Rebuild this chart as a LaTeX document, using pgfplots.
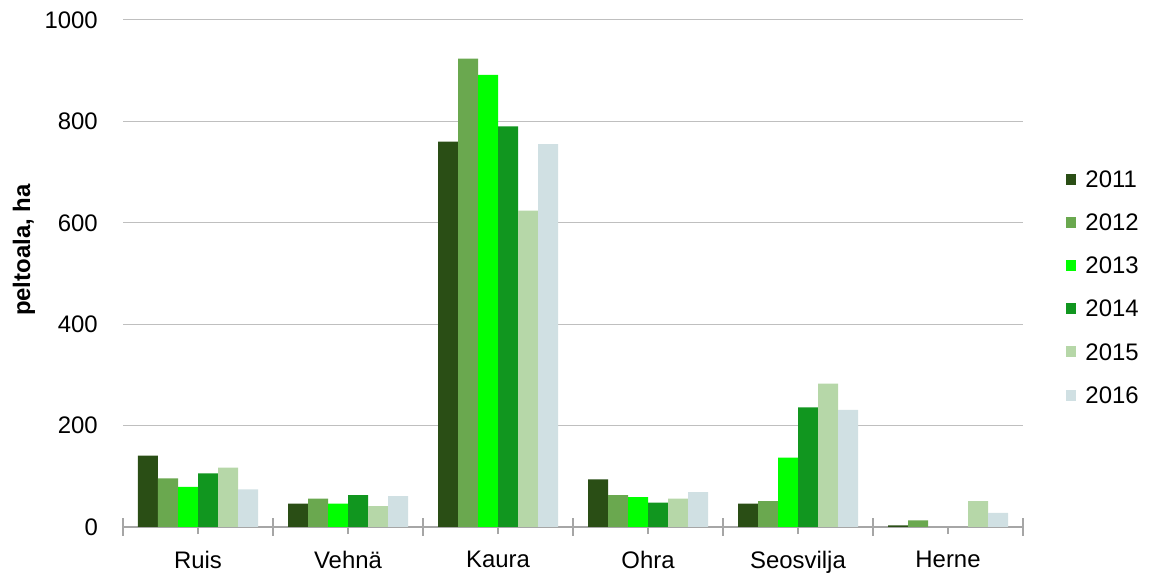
\documentclass[border=0pt]{standalone}
\usepackage{pgfplots}
\pgfplotsset{compat=1.18}
\usepackage{fontspec}
\setmainfont{Liberation Sans}
\definecolor{c11}{HTML}{2A4E15}
\definecolor{c12}{HTML}{6AA84F}
\definecolor{c13}{HTML}{00FF00}
\definecolor{c14}{HTML}{11961F}
\definecolor{c15}{HTML}{B6D7A8}
\definecolor{c16}{HTML}{D0E0E3}
\definecolor{gridgray}{HTML}{BFBFBF}
\definecolor{axgray}{HTML}{A6A6A6}
\begin{document}
\begin{tikzpicture}
\useasboundingbox (0,0) rectangle (1151bp,574bp);
\begin{axis}[
  at={(123bp,47bp)}, anchor=south west,
  scale only axis, width=900bp, height=507bp,
  xmin=-0.5, xmax=5.5, ymin=0, ymax=1000,
  ybar=0pt, bar width=20bp,
  axis x line*=bottom, axis y line*=left,
  y axis line style={draw=none},
  x axis line style={draw=axgray, line width=1.2pt, -},
  ymajorgrids, grid style={draw=gridgray, line width=1pt},
  ytick={0,200,...,1000},
  yticklabels={0,200,400,600,800,1000},
  y tick style={draw=none},
  y tick label style={anchor=east, inner sep=0pt, xshift=-18bp},
  xtick={0,...,5},
  xticklabels={Ruis,Vehnä,Kaura,Ohra,Seosvilja,Herne},
  x tick style={draw=axgray, line width=1.2pt},
  x tick label style={yshift=-14bp},
  tick align=outside, major tick length=7bp,
  extra x ticks={-0.5,0.5,...,5.5},
  extra x tick labels={},
  extra x tick style={tick align=center, major tick length=17bp, grid=none},
  font=\fontsize{24}{28}\selectfont,
  tick label style={font=\fontsize{24}{28}\selectfont},
  /pgf/number format/assume math mode=true,
  ylabel={\bfseries peltoala, ha},
  every axis y label/.style={at={(axis description cs:-0.1100,0.546)}, rotate=90, anchor=center, font=\fontsize{24}{28}\selectfont},
  legend style={at={(1.047,0.472)}, anchor=west, draw=none, fill=none,
    font=\fontsize{24}{28}\selectfont, row sep=21bp, inner sep=0pt,
    /tikz/every odd column/.append style={column sep=8bp}},
  legend cell align=left,
  legend image code/.code={\fill[#1] (0bp,-5bp) rectangle (10bp,6bp);},
]
\addplot[fill=c11, draw=none] coordinates {(0,141) (1,46) (2,760) (3,94) (4,46) (5,3)};
\addplot[fill=c12, draw=none] coordinates {(0,96) (1,56) (2,924) (3,63) (4,51) (5,13)};
\addplot[fill=c13, draw=none] coordinates {(0,79) (1,46) (2,892) (3,59) (4,137) (5,0)};
\addplot[fill=c14, draw=none] coordinates {(0,106) (1,63) (2,790) (3,48) (4,236) (5,0)};
\addplot[fill=c15, draw=none] coordinates {(0,117) (1,41) (2,624) (3,56) (4,283) (5,51)};
\addplot[fill=c16, draw=none] coordinates {(0,74) (1,61) (2,755) (3,69) (4,231) (5,28)};
\legend{2011,2012,2013,2014,2015,2016}
\end{axis}
\end{tikzpicture}
\end{document}
